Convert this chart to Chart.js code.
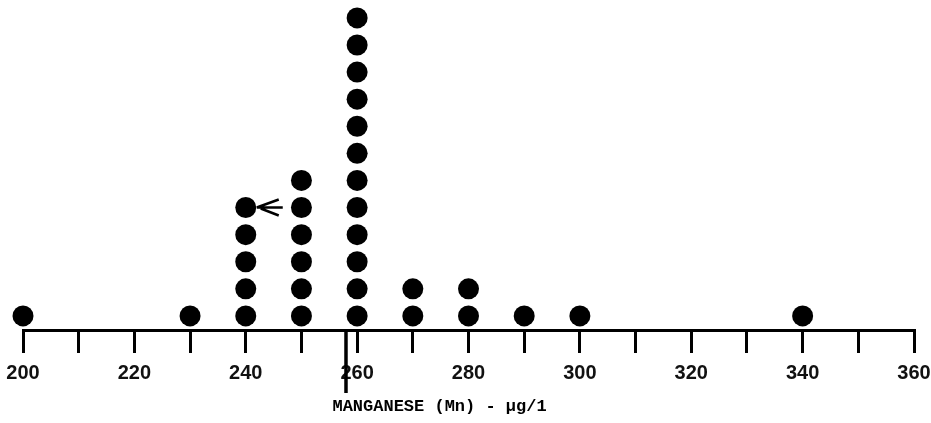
<!DOCTYPE html>
<html>
<head>
<meta charset="utf-8">
<title>Manganese dot plot</title>
<script src="https://cdn.jsdelivr.net/npm/chart.js@4/dist/chart.umd.min.js"></script>
<style>
  html, body { margin: 0; padding: 0; background: #fff; }
  #wrap { position: relative; width: 931px; height: 423px; }
</style>
</head>
<body>
<div id="wrap"><canvas id="dotChart"></canvas></div>
<script>
// ---------- data ----------
const mnValues = [200, 230, 240, 250, 260, 270, 280, 290, 300, 340];
const mnCounts = [1, 1, 5, 6, 12, 2, 2, 1, 1, 1];
const tickLabels = [200, 220, 240, 260, 280, 300, 320, 340, 360];
const axisTitle = "MANGANESE (Mn) - \u00b5g/1";
const markerValue = 258;      // vertical marker below the axis
const arrowValue = 240;       // column with the arrow at its top

// one point per dot, stacked 1..count
const dots = [];
mnValues.forEach((v, i) => {
  for (let k = 1; k <= mnCounts[i]; k++) dots.push({ x: v, y: k });
});

// ---------- extras: marker line, arrow, axis title ----------
const extrasPlugin = {
  id: "extras",
  afterDraw(chart) {
    const { ctx, scales } = chart;
    const xs = scales.x, ys = scales.y;
    ctx.save();
    ctx.strokeStyle = "#000";
    ctx.fillStyle = "#000";

    // marker line hanging below axis
    const mx = xs.getPixelForValue(markerValue);
    ctx.lineWidth = 3.5;
    ctx.beginPath();
    ctx.moveTo(mx, xs.top);
    ctx.lineTo(mx, xs.top + 63);
    ctx.stroke();

    // arrow pointing at top dot of the 240 column
    const i = mnValues.indexOf(arrowValue);
    const ay = ys.getPixelForValue(mnCounts[i]);
    const tip = xs.getPixelForValue(arrowValue) + 11;
    ctx.lineWidth = 2.5;
    ctx.beginPath();
    ctx.moveTo(tip, ay);
    ctx.lineTo(tip + 26, ay);
    ctx.moveTo(tip, ay);
    ctx.lineTo(tip + 22, ay - 8);
    ctx.moveTo(tip + 4, ay + 1);
    ctx.lineTo(tip + 22, ay + 8);
    ctx.stroke();

    // axis title
    ctx.font = "bold 17px 'Liberation Mono', monospace";
    ctx.textAlign = "center";
    ctx.textBaseline = "middle";
    ctx.fillText(axisTitle, xs.getPixelForValue(274.8), xs.top + 77);
    ctx.restore();
  }
};

new Chart(document.getElementById("dotChart"), {
  type: "scatter",
  data: {
    datasets: [
      {
        data: dots,
        clip: false,
        pointRadius: 10.5,
        pointHoverRadius: 10.5,
        pointBackgroundColor: "#000",
        pointBorderWidth: 0
      }
    ]
  },
  options: {
    responsive: true,
    maintainAspectRatio: false,
    animation: false,
    layout: { autoPadding: false, padding: { left: 23, right: 17, top: 0, bottom: 0 } },
    plugins: {
      legend: { display: false },
      tooltip: { enabled: false }
    },
    scales: {
      x: {
        type: "linear",
        min: 200,
        max: 360,
        afterFit: (s) => {
          s.height = 93;
          s.paddingLeft = 0;
          s.paddingRight = 0;
        },
        border: { display: true, color: "#000", width: 3 },
        grid: {
          drawOnChartArea: false,
          drawTicks: true,
          tickLength: 23,
          lineWidth: 3,
          color: "#000"
        },
        ticks: {
          stepSize: 10,
          autoSkip: false,
          maxRotation: 0,
          padding: 8,
          color: "#111",
          font: { family: "'Liberation Sans', Arial, sans-serif", size: 20, weight: "bold" },
          callback: (v) => (tickLabels.includes(v) ? String(v) : "")
        }
      },
      y: {
        display: false,
        min: 0.48,
        max: 12.66
      }
    }
  },
  plugins: [extrasPlugin]
});
</script>
</body>
</html>
